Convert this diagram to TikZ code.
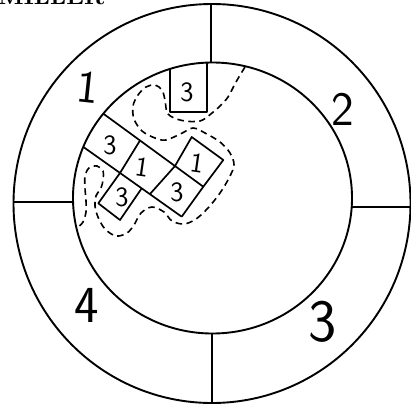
\documentclass[tikz,border=0pt]{standalone}
\usetikzlibrary{calc}

\begin{document}
\begin{tikzpicture}[x=1pt, y=-1pt,
    ring/.style={line width=1.9pt},
    cell/.style={line width=1.7pt, line join=round},
    trail/.style={line width=1.6pt, dash pattern=on 6.5pt off 4.5pt},
    digit/.style={font=\sffamily\fontsize{28}{28}\selectfont, inner sep=0pt},
    zone/.style={font=\sffamily\fontsize{46}{46}\selectfont, inner sep=0pt}
  ]
  \useasboundingbox (0,0) rectangle (411,404);
  \clip (0,0) rectangle (411,404);
  \node[anchor=base west, inner sep=0pt, font=\bfseries\fontsize{24}{24}\selectfont] (head) at (-2,5) {MILLER};

  % the two rings and the four sectors
  \draw[ring] (212,203.5) ellipse (198.5pt and 199.5pt);
  \draw[ring] (212.5,198) ellipse (139.5pt and 135.5pt);
  \draw[ring] (211,4) -- (211,62.5);
  \draw[ring] (212,333.5) -- (212,403);
  \draw[ring] (13.5,202) -- (73,202);
  \draw[ring] (351.7,207) -- (410.5,207);

  \coordinate (a0) at (75,93);
  \coordinate (a1) at (140,140.5);
  \coordinate (a2) at (175,166);
  \coordinate (a3) at (203.3,186.7);
  \coordinate (b0) at (60,130.4);
  \coordinate (b1) at (120,173);
  \coordinate (b2) at (150,194);
  \coordinate (b3) at (181.7,216.7);

  % cells
  \begin{scope}
    \clip (212.5,198) ellipse (139.5pt and 135.5pt);
    \draw[cell] (a0) -- (a3);
    \draw[cell] (b0) -- (b3);
    \draw[cell] (a1) -- (b1);
    \draw[cell] (a2) -- (b2);
    \draw[cell] (a3) -- (b3);
    \draw[cell] (a2) -- (191.7,137) -- (223.3,160) -- (a3);
    \draw[cell] (b1) -- (98.3,203.3) -- (120,220) -- (141.7,188.3);
    \draw[cell] (170,50) -- (170,112) -- (207,112) -- (207,50);
  \end{scope}

  \node[digit] (c1) at (187,92) {3};
  \node[digit] (c2) at (110,145) {3};
  \node[digit, rotate=-8] (c3) at (142,167) {1};
  \node[digit, rotate=-8] (c4) at (197,163) {1};
  \node[digit] (c5) at (177,192) {3};
  \node[digit] (c6) at (122,197) {3};

  \node[zone, rotate=-6] (z1) at (88,87) {1};
  \node[zone, font=\sffamily\fontsize{48}{48}\selectfont] (z2) at (343,109) {2};
  \node[zone, font=\sffamily\fontsize{60}{60}\selectfont] (z3) at (323,322) {3};
  \node[zone, font=\sffamily\fontsize{52}{52}\selectfont] (z4) at (87,305) {4};

  % spread
  \draw[trail] plot[smooth, tension=0.55] coordinates {
    (245,67) (236,82) (228,97) (220,106) (211.7,113.3) (200,121) (182,120.5)
    (168,114) (165,100) (162,90) (155,85) (146,87) (138,95) (133,106)
    (134,119) (142,131) (155,138) (166,140) (181.7,133.3) (193,128)
    (205,133) (220,142) (230,153) (234,165) (229,178) (220,193) (208,208)
    (196,219) (184,224) (172,221) (164,212) (152,207) (141,213) (134,225)
    (127,233) (116,236) (105,229) (98,217) (95,206) (96,196) (101,188)
    (103,180) (103,171) (97,166) (89,168) (85,176) (85,188) (86,201)
    (86,212) (83,222) (78,227)};
\end{tikzpicture}
\end{document}
